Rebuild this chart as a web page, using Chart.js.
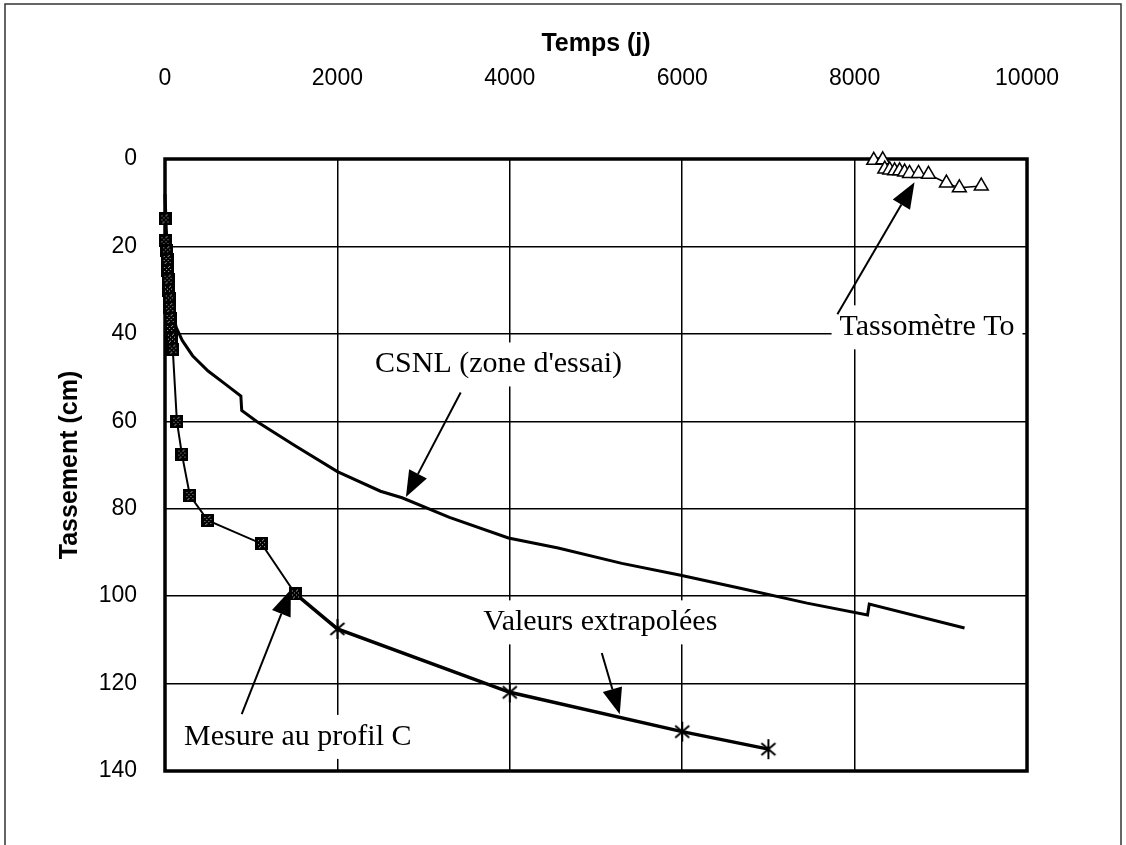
<!DOCTYPE html>
<html>
<head>
<meta charset="utf-8">
<script src="https://cdn.jsdelivr.net/npm/chart.js@4/dist/chart.umd.min.js"></script>
<style>
  html, body { margin: 0; padding: 0; background: #fff; }
  #wrap { width: 1126px; height: 845px; position: relative; }
</style>
</head>
<body>
<div id="wrap"><canvas id="chart"></canvas></div>
<script>
// ---- data (x = Temps en jours, y = Tassement en cm) ----
const csnlX = [0, 15, 40, 80, 130, 200, 320, 500, 700, 880, 890, 1060, 1500, 2000, 2500, 2750, 3300, 3984, 4561, 5300, 5982, 6700, 7448, 8150, 8170, 9275];
const csnlY = [8, 16, 26, 34, 38.5, 41.5, 45, 48.5, 51.5, 54.2, 57.5, 60, 65.5, 71.5, 76, 77.5, 82, 86.7, 89, 92.5, 95.2, 98.3, 101.6, 104.3, 101.8, 107.3];

const profilX = [0, 0, 20, 25, 30, 35, 40, 50, 55, 60, 65, 75, 90, 138, 196, 289, 497, 1120, 1513];
const profilY = [13.7, 18.7, 21, 23, 25.5, 27.5, 30, 32, 34, 36.5, 39, 41, 43.5, 60, 67.5, 77, 82.7, 88, 99.5];

const extraX = [1513, 2000, 4000, 6000, 7000];
const extraY = [99.5, 107.5, 122, 131, 135];

const toX = [8222, 8326, 8350, 8407, 8464, 8522, 8580, 8637, 8741, 8857, 9065, 9215, 9469];
const toY = [0.3, 0.2, 2.3, 2.5, 2.7, 2.7, 3, 3.3, 3.3, 3.5, 5.5, 6.6, 6.2];

const xTicks = [0, 2000, 4000, 6000, 8000, 10000];
const yTicks = [0, 20, 40, 60, 80, 100, 120, 140];

// annotations (texte + fleches), en coordonnees du graphe
const notes = [
  { text: 'Tassomètre To', x: 8840, y: 38.5 },
  { text: "CSNL (zone d'essai)", x: 3870, y: 47 },
  { text: 'Valeurs extrapolées', x: 5050, y: 106 },
  { text: 'Mesure au profil C', x: 1540, y: 132.2 }
];
const arrows = [
  { from: [7800, 35.5], to: [8695, 5.3] },
  { from: [3430, 53.4], to: [2795, 77.3] },
  { from: [5067, 113], to: [5275, 127] },
  { from: [890, 127], to: [1460, 98.5] }
];

const pts = (xs, ys) => xs.map((v, i) => ({ x: v, y: ys[i] }));

// marqueurs
function makeSquare() {
  const c = document.createElement('canvas');
  c.width = c.height = 13;
  const g = c.getContext('2d');
  g.fillStyle = '#000';
  g.fillRect(0, 0, 13, 13);
  g.fillStyle = '#aaa';
  [[3, 3], [7, 3], [5, 5], [9, 5], [3, 7], [7, 7], [5, 9], [9, 9], [4, 10], [8, 2]].forEach(([a, b]) => g.fillRect(a, b, 1, 1));
  return c;
}
function makeCross() {
  const c = document.createElement('canvas');
  c.width = c.height = 22;
  const g = c.getContext('2d');
  g.strokeStyle = '#000';
  g.lineWidth = 2;
  g.beginPath();
  g.moveTo(4, 5); g.lineTo(18, 17);
  g.moveTo(18, 5); g.lineTo(4, 17);
  g.moveTo(11, 1); g.lineTo(11, 21);
  g.stroke();
  return c;
}
const squareImg = makeSquare();
const crossImg = makeCross();

function drawArrow(ctx, x0, y0, x1, y1) {
  const ang = Math.atan2(y1 - y0, x1 - x0);
  const len = 26, hw = 10;
  const bx = x1 - len * Math.cos(ang), by = y1 - len * Math.sin(ang);
  ctx.lineWidth = 2;
  ctx.beginPath();
  ctx.moveTo(x0, y0);
  ctx.lineTo(bx, by);
  ctx.stroke();
  ctx.beginPath();
  ctx.moveTo(x1, y1);
  ctx.lineTo(bx + hw * Math.sin(ang), by - hw * Math.cos(ang));
  ctx.lineTo(bx - hw * Math.sin(ang), by + hw * Math.cos(ang));
  ctx.closePath();
  ctx.fill();
}

const decor = {
  id: 'decor',
  beforeDraw(chart) {
    const ctx = chart.ctx;
    ctx.save();
    ctx.fillStyle = '#fff';
    ctx.fillRect(0, 0, chart.width, chart.height);
    ctx.strokeStyle = '#333';
    ctx.lineWidth = 1.5;
    ctx.strokeRect(5, 4, 1116, 900);
    ctx.restore();
  },
  beforeDatasetsDraw(chart) {
    const { ctx, chartArea: a } = chart;
    ctx.save();
    ctx.strokeStyle = '#000';
    ctx.lineWidth = 3.5;
    ctx.strokeRect(a.left, a.top, a.right - a.left, a.bottom - a.top);
    ctx.restore();
  },
  afterDatasetsDraw(chart) {
    const { ctx, scales: { x, y } } = chart;
    ctx.save();
    ctx.font = '30px "Liberation Serif"';
    ctx.textAlign = 'center';
    ctx.textBaseline = 'middle';
    notes.forEach(n => {
      const px = x.getPixelForValue(n.x), py = y.getPixelForValue(n.y);
      const w = ctx.measureText(n.text).width;
      ctx.fillStyle = '#fff';
      ctx.fillRect(px - w / 2 - 8, py - 22, w + 16, 44);
      ctx.fillStyle = '#000';
      ctx.fillText(n.text, px, py);
    });
    ctx.strokeStyle = '#000';
    ctx.fillStyle = '#000';
    arrows.forEach(ar => {
      drawArrow(ctx,
        x.getPixelForValue(ar.from[0]), y.getPixelForValue(ar.from[1]),
        x.getPixelForValue(ar.to[0]), y.getPixelForValue(ar.to[1]));
    });
    ctx.restore();
  }
};

Chart.defaults.font.family = '"Liberation Sans", Arial, sans-serif';
Chart.defaults.color = '#000';

new Chart(document.getElementById('chart'), {
  type: 'line',
  data: {
    datasets: [
      {
        label: 'Mesure au profil C',
        data: pts(profilX, profilY),
        borderColor: '#000',
        borderWidth: 2,
        pointStyle: squareImg,
        pointRadius: 6,
        clip: false,
        order: 1
      },
      {
        label: 'Valeurs extrapolées',
        data: pts(extraX, extraY),
        borderColor: '#000',
        borderWidth: 3.5,
        pointStyle: crossImg,
        pointRadius: [0, 9, 9, 9, 9],
        clip: false,
        order: 2
      },
      {
        label: "CSNL (zone d'essai)",
        data: pts(csnlX, csnlY),
        borderColor: '#000',
        borderWidth: 3,
        pointRadius: 0,
        clip: false,
        order: 3
      },
      {
        label: 'Tassomètre To',
        data: pts(toX, toY),
        borderColor: '#000',
        borderWidth: 1.5,
        pointStyle: 'triangle',
        pointRadius: 8,
        pointBackgroundColor: '#fff',
        pointBorderColor: '#000',
        pointBorderWidth: 1.5,
        clip: false,
        order: 0
      }
    ]
  },
  options: {
    responsive: true,
    maintainAspectRatio: false,
    animation: false,
    events: [],
    layout: { padding: { left: 0, top: 0, right: 95, bottom: 74 } },
    plugins: { legend: { display: false }, tooltip: { enabled: false } },
    scales: {
      x: {
        type: 'linear',
        position: 'top',
        min: 0,
        max: 10000,
        afterBuildTicks: s => { s.ticks = xTicks.map(v => ({ value: v })); },
        afterFit: s => { s.height = 159; },
        grid: { color: '#000', lineWidth: 1.5, drawTicks: false },
        border: { display: false },
        ticks: { font: { size: 23 }, padding: 67, maxRotation: 0, callback: v => String(v) },
        title: { display: true, text: 'Temps (j)', font: { size: 25, weight: 'bold' }, padding: { top: 29, bottom: 0 } }
      },
      y: {
        type: 'linear',
        position: 'left',
        reverse: true,
        min: 0,
        max: 140,
        afterBuildTicks: s => { s.ticks = yTicks.map(v => ({ value: v })); },
        afterFit: s => { s.width = 165; },
        grid: { color: '#000', lineWidth: 1.5, drawTicks: false },
        border: { display: false },
        ticks: { font: { size: 23 }, padding: 28, callback: v => String(v) },
        title: { display: true, text: 'Tassement (cm)', font: { size: 25, weight: 'bold' }, padding: { top: 55, bottom: 0 } }
      }
    }
  },
  plugins: [decor]
});
</script>
</body>
</html>
